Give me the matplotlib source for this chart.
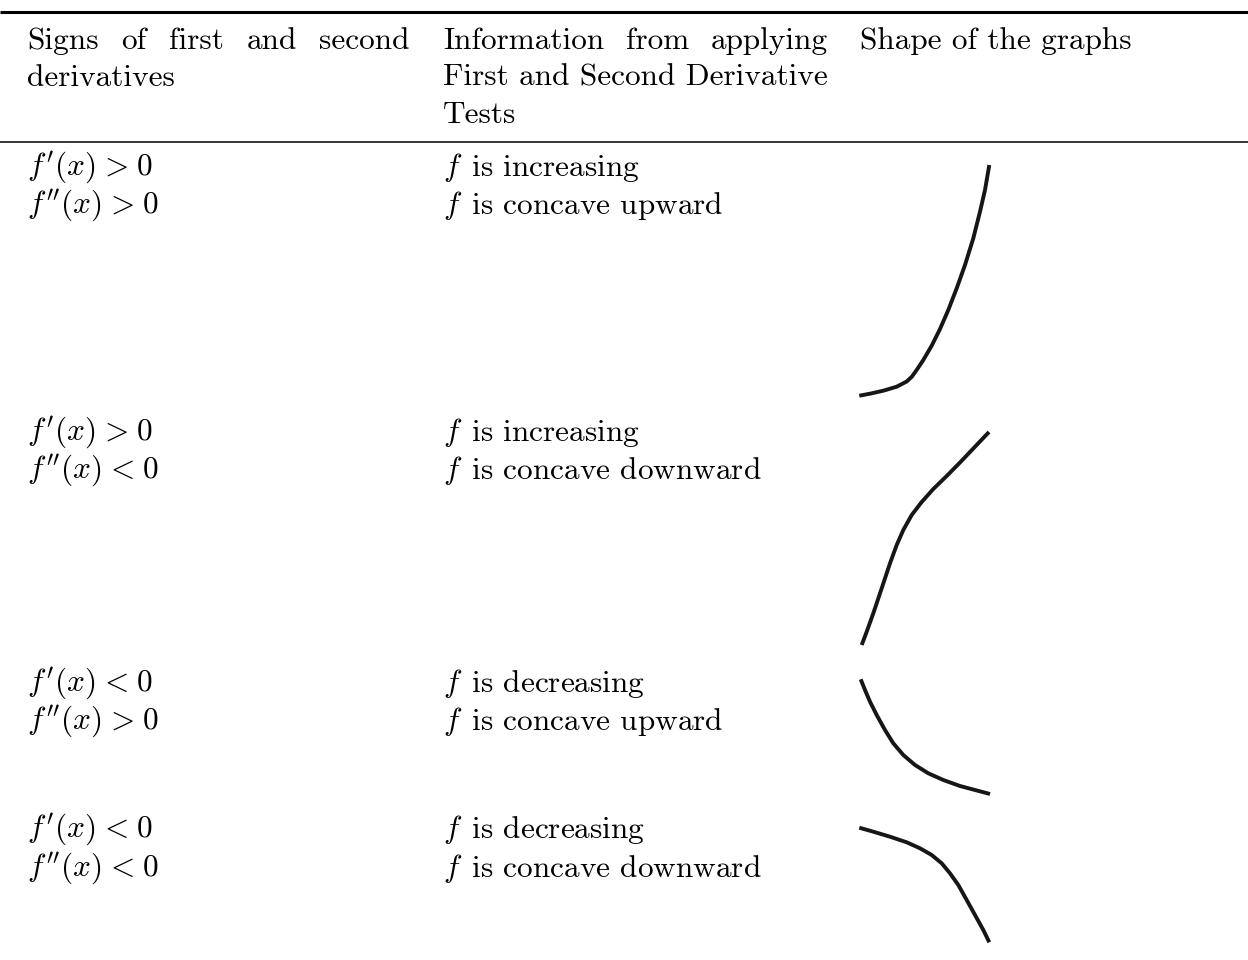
import matplotlib
matplotlib.use("Agg")
import matplotlib.pyplot as plt

plt.rcParams['font.family'] = ['cmr10']
plt.rcParams['mathtext.fontset'] = 'cm'
plt.rcParams['axes.unicode_minus'] = False

W, H = 1248, 960
FS = 22.5

# ---- table content ----
header_col1 = ["Signs of first and second", "derivatives"]
header_col2 = ["Information from applying", "First and Second Derivative", "Tests"]
header_col3 = ["Shape of the graphs"]

signs = [
    [r"$f'(x)\hspace{0.09}>\hspace{0.09}0$", r"$f''(x)\hspace{0.09}>\hspace{0.09}0$"],
    [r"$f'(x)\hspace{0.09}>\hspace{0.09}0$", r"$f''(x)\hspace{0.09}<\hspace{0.09}0$"],
    [r"$f'(x)\hspace{0.09}<\hspace{0.09}0$", r"$f''(x)\hspace{0.09}>\hspace{0.09}0$"],
    [r"$f'(x)\hspace{0.09}<\hspace{0.09}0$", r"$f''(x)\hspace{0.09}<\hspace{0.09}0$"],
]
info = [
    [r"$f\hspace{0.1}$ is increasing", r"$f\hspace{0.1}$ is concave upward"],
    [r"$f\hspace{0.1}$ is increasing", r"$f\hspace{0.1}$ is concave downward"],
    [r"$f\hspace{0.1}$ is decreasing", r"$f\hspace{0.1}$ is concave upward"],
    [r"$f\hspace{0.1}$ is decreasing", r"$f\hspace{0.1}$ is concave downward"],
]

# ---- curve shapes ----
curve1_x = [859.3, 870, 883.3, 896.7, 906.7, 912, 917, 923.3, 931.7, 940,
            948.3, 956.7, 965, 973.3, 980, 985, 989.3]
curve1_y = [395.7, 393.7, 390.7, 386.7, 381.5, 376.5, 369.5, 360, 345.7, 329,
            310, 288.3, 265, 238.3, 211.7, 190, 165]
curve2_x = [861.7, 866.7, 873.3, 881.7, 890, 896.7, 903.3, 911.7, 921.7, 933.3,
            946.7, 960, 973.3, 989]
curve2_y = [645, 631.7, 613.3, 588.3, 563.3, 545, 530, 515, 502, 489,
            476, 462.5, 448.5, 432]
curve3_x = [860.7, 865, 870, 876.7, 885, 893.3, 903.3, 915, 928.3, 943.3,
            960, 975, 990]
curve3_y = [679.3, 690, 701.7, 715, 730, 743.3, 755, 765, 773.3, 780,
            786, 790, 794]
curve4_x = [859.3, 873.3, 890, 906.7, 920, 931.7, 941.7, 950, 958.3, 966.7,
            975, 983.3, 989.3]
curve4_y = [827.7, 831.7, 836.7, 842.3, 848.3, 855, 863.3, 873.3, 885, 900,
            915, 930, 942.3]
curves = [(curve1_x, curve1_y), (curve2_x, curve2_y),
          (curve3_x, curve3_y), (curve4_x, curve4_y)]

# ---- layout ----
col_x = [27, 443, 860]
header_just_right = [410, 828]
header_base = [49, 86, 123]
row_base = [(176, 214), (441, 479), (692, 730), (838, 877)]

fig = plt.figure(figsize=(W / 100, H / 100), dpi=100)
ax = fig.add_axes([0, 0, 1, 1])
ax.set_xlim(0, W)
ax.set_ylim(H, 0)
ax.axis('off')

# rules
ax.plot([0, W], [12, 12], color='black', lw=2.2, solid_capstyle='butt')
ax.plot([0, W], [142, 142], color='black', lw=1.1, solid_capstyle='butt')

renderer = fig.canvas.get_renderer()


def justified(text, x0, x1, y):
    words = text.split()
    objs = [ax.text(0, y, w, fontsize=FS, va='baseline', ha='left') for w in words]
    widths = [o.get_window_extent(renderer).width for o in objs]
    gap = (x1 - x0 - sum(widths)) / (len(words) - 1)
    x = x0
    for o, w in zip(objs, widths):
        o.set_x(x)
        x += w + gap


justified(header_col1[0], col_x[0], header_just_right[0], header_base[0])
ax.text(col_x[0], header_base[1], header_col1[1], fontsize=FS, va='baseline')
justified(header_col2[0], col_x[1], header_just_right[1], header_base[0])
for i, t in enumerate(header_col2[1:], start=1):
    ax.text(col_x[1], header_base[i], t, fontsize=FS, va='baseline')
ax.text(col_x[2], header_base[0], header_col3[0], fontsize=FS, va='baseline')

for (b1, b2), s, inf in zip(row_base, signs, info):
    ax.text(col_x[0], b1, s[0], fontsize=FS, va='baseline')
    ax.text(col_x[0], b2, s[1], fontsize=FS, va='baseline')
    ax.text(col_x[1], b1, inf[0], fontsize=FS, va='baseline')
    ax.text(col_x[1], b2, inf[1], fontsize=FS, va='baseline')

for cx, cy in curves:
    ax.plot(cx, cy, color='#161616', lw=2.8, solid_capstyle='butt',
            solid_joinstyle='round')

fig.savefig('out.png', dpi=100)
